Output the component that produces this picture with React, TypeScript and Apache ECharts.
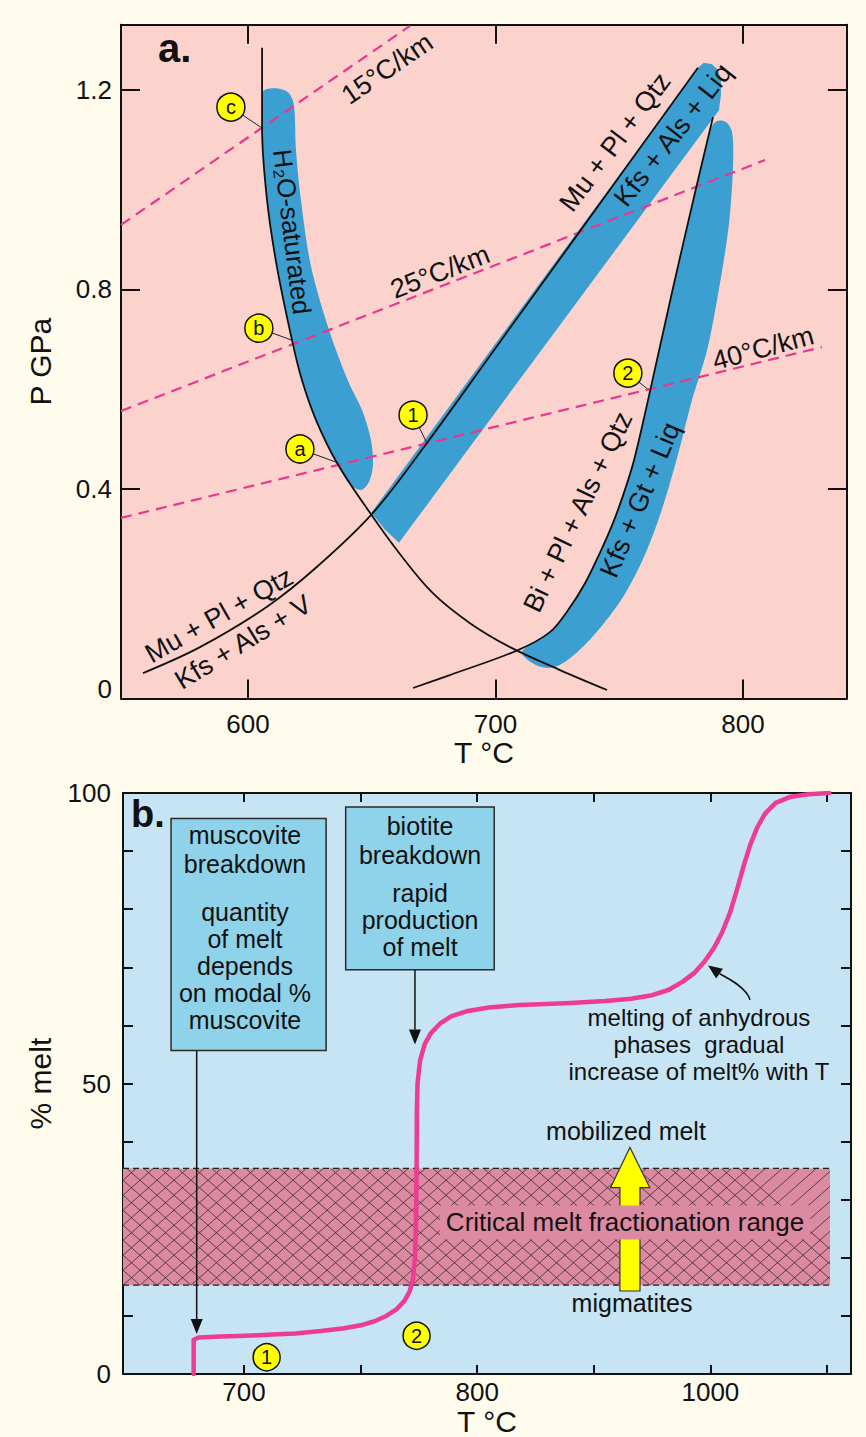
import React, { useEffect, useRef } from "react";
import * as echarts from "echarts";

const FONT = '"Liberation Sans", Arial, Helvetica, "DejaVu Sans", sans-serif';
const BG = "#fffcee";
const PINK_BG = "#fcd2cd";
const BAND = "#3b9fd1";
const BLUE_BG = "#c6e4f3";
const HATCH_FILL = "#dc8aa2";
const BOX_FILL = "#8fd3ea";
const MAGENTA = "#ee3b94";
const GEO = "#e8388e";
const INK = "#111111";

// ---------- Panel a: P (GPa) vs T (°C) ----------
const aXTicks = [600, 700, 800];
const aYTicks = [0.4, 0.8, 1.2];
const aYLabelValues = [0, 0.4, 0.8, 1.2];
const aYLabelTexts = ["0", "0.4", "0.8", "1.2"];

const geotherm15 = [[548.7, 0.929], [665.5, 1.328]];
const geotherm25 = [[548.7, 0.556], [808.9, 1.059]];
const geotherm40 = [[548.7, 0.342], [831.9, 0.684]];

const h2oSolidus = [
  [605.7, 1.284], [605.7, 1.123], [607.7, 0.979], [611.7, 0.845], [617.8, 0.698],
  [621.8, 0.618], [627.5, 0.538], [636.0, 0.452], [649.3, 0.352], [661.0, 0.272],
  [674.7, 0.191], [689.7, 0.131], [705.9, 0.083], [726.1, 0.037], [745.1, -0.003],
];
const muscoviteCurve = [
  [557.6, 0.031], [580.6, 0.083], [607.7, 0.164], [627.9, 0.244], [650.5, 0.352],
  [672.3, 0.492], [700.0, 0.682], [730.0, 0.888], [760.0, 1.094], [781.8, 1.244],
];
const biotiteCurve = [
  [666.7, 0.001], [681.6, 0.027], [709.1, 0.077], [722.0, 0.113], [729.3, 0.157],
  [736.2, 0.211], [742.2, 0.272], [747.5, 0.332], [751.9, 0.392], [756.0, 0.458],
  [761.6, 0.577], [771.3, 0.793], [780.6, 0.993], [787.9, 1.145],
];

const bandH2O = [
  [605.7, 1.189], [606.5, 1.199], [609.7, 1.203], [613.7, 1.201], [616.6, 1.193],
  [618.6, 1.169], [619.4, 1.079], [621.4, 0.979], [625.5, 0.845], [633.1, 0.713],
  [640.8, 0.612], [646.1, 0.558], [649.7, 0.498], [650.5, 0.448], [648.9, 0.414],
  [645.7, 0.398], [641.0, 0.410], [636.0, 0.452], [627.5, 0.538], [621.8, 0.618],
  [617.8, 0.698], [611.7, 0.845], [607.7, 0.979], [605.7, 1.123],
];
const bandMu = [
  [649.8, 0.352], [781.8, 1.244], [784.2, 1.254], [787.5, 1.251], [789.9, 1.240],
  [791.1, 1.219], [791.1, 1.189], [790.3, 1.159], [661.0, 0.292], [655.4, 0.318],
];
const bandBi = [
  [710.7, 0.073], [722.0, 0.113], [729.3, 0.157], [736.2, 0.211], [742.2, 0.272],
  [747.5, 0.332], [751.9, 0.392], [756.0, 0.458], [761.6, 0.577], [771.3, 0.793],
  [780.6, 0.993], [786.7, 1.119], [789.5, 1.137], [793.1, 1.135], [795.6, 1.115],
  [796.0, 1.049], [794.3, 0.929], [789.9, 0.789], [785.5, 0.678], [779.4, 0.578],
  [773.7, 0.468], [767.2, 0.358], [760.4, 0.268], [752.0, 0.187], [742.2, 0.121],
  [731.7, 0.067], [724.0, 0.043], [717.2, 0.045],
];
const bandSmooth = [0.3, 0, 0.3];

const aMarkerNames = ["c", "b", "a", "1", "2"];
const aMarkerPos = [[593.1, 1.165], [604.4, 0.722], [621.0, 0.48], [666.7, 0.548], [753.5, 0.632]];
const aMarkerTargets = [[605.7, 1.123], [617.8, 0.698], [636.5, 0.452], [672.3, 0.492], [762.0, 0.598]];

const aLabelTexts = [
  "15°C/km", "25°C/km", "40°C/km", "H₂O-saturated", "Mu + Pl + Qtz",
  "Kfs + Als + Liq", "Mu + Pl + Qtz", "Kfs + Als + V", "Bi + Pl + Als + Qtz", "Kfs + Gt + Liq",
];
const aLabelPos = [
  [656.2, 1.242], [677.6, 0.835], [808.1, 0.682], [617.8, 0.915], [748.3, 1.095],
  [771.7, 1.109], [588.3, 0.147], [598.0, 0.093], [733.3, 0.354], [758.4, 0.378],
];
const aLabelAngles = [34.5, 21.3, 15, -83, 53, 52, 29.6, 31.6, 64.5, 67];
const aLabelSizes = [27, 27, 27, 26, 27, 27, 27, 27, 27, 27];

// ---------- Panel b: % melt vs T (°C) ----------
const bXTicks = [700, 750, 800, 850, 900, 950];
const bXLabelValues = [700, 800, 900];
const bXLabelTexts = ["700", "800", "1000"];
const bYLabelValues = [0, 50, 100];

const meltCurve = [
  [678.4, 0], [678.4, 5.9], [680.5, 6.3], [690, 6.45], [701, 6.6], [712, 6.8], [722, 7.0],
  [733, 7.4], [743, 7.9], [750, 8.4], [756, 9.1], [761, 10.0], [765.5, 11.2], [768.8, 12.6],
  [771, 14.2], [772.5, 16.5], [773.3, 20], [773.7, 25], [774, 35], [774.1, 45], [774.4, 50],
  [775.5, 54], [777.5, 56.8], [780, 58.6], [784, 60.3], [789, 61.6], [796, 62.5], [805, 63.1],
  [818, 63.5], [838, 63.8], [855, 64.2], [866, 64.6], [875, 65.2], [882, 66.1], [888, 67.5],
  [893, 69.0], [897.5, 71.0], [901.5, 73.3], [905, 76], [908.5, 79.5], [911.5, 83.5],
  [914.3, 87.5], [917, 91], [920, 94], [923.5, 96.5], [928, 98.3], [934, 99.3], [942, 99.8],
  [951, 100],
];

const criticalT = [648.1, 951.3];
const criticalPct = [15.3, 35.4];

const yellowArrow = [
  [861.2, 14.3], [861.2, 32.1], [857.2, 32.1], [865.5, 39.0], [874.0, 32.1], [869.8, 32.1], [869.8, 14.3],
];

const boxRects = [[668.7, 55.7, 735.2, 95.6], [743.6, 69.6, 807.3, 97.6]];
const boxTitles = ["muscovite\nbreakdown", "biotite\nbreakdown"];
const boxTitlePos = [[700.4, 95.2], [775.5, 96.9]];
const boxBodies = ["quantity\nof melt\ndepends\non modal %\nmuscovite", "rapid\nproduction\nof melt"];
const boxBodyPos = [[700.4, 81.9], [775.5, 85.1]];

const straightArrows = [
  [[679.7, 55.7], [679.7, 6.9]],
  [[773.3, 69.6], [773.3, 56.7]],
];
const curvedArrow = [[917.0, 64.4], [915.3, 66.8], [905.8, 68.4], [899.0, 70.3]];

const bTexts = [
  "mobilized melt",
  "Critical melt fractionation range",
  "migmatites",
  "melting of anhydrous\nphases  gradual\nincrease of melt% with T",
];
const bTextPos = [[863.8, 41.8], [863.4, 26.1], [866.4, 12.2], [895.1, 63.66]];
const bTextSizes = [25, 26, 25, 24];

const bMarkerNames = ["1", "2"];
const bMarkerPos = [[709.7, 2.9], [774.0, 6.6]];

// ---------- helpers ----------
const axisLineStyle = { show: true, onZero: false, lineStyle: { color: INK, width: 2 } };

function textStyle(text: string, size: number, extra: any = {}) {
  return {
    text,
    fill: INK,
    fontSize: size,
    fontFamily: FONT,
    align: "center",
    verticalAlign: "middle",
    textAlign: "center",
    textVerticalAlign: "middle",
    ...extra,
  };
}

function arrowHead(tip: number[], from: number[], hl: number, hw: number) {
  const dx = tip[0] - from[0];
  const dy = tip[1] - from[1];
  const len = Math.hypot(dx, dy) || 1;
  const ux = dx / len;
  const uy = dy / len;
  const bx = tip[0] - ux * hl;
  const by = tip[1] - uy * hl;
  return {
    base: [bx, by],
    points: [
      [tip[0], tip[1]],
      [bx - uy * hw, by + ux * hw],
      [bx + uy * hw, by - ux * hw],
    ],
  };
}

function buildOption() {
  const bands = [bandH2O, bandMu, bandBi];
  const series: any[] = [];

  // Panel a -------------------------------------------------------------
  series.push({
    type: "custom",
    xAxisIndex: 0,
    yAxisIndex: 0,
    silent: true,
    data: bands.map((b) => b[0]),
    renderItem: (params: any, api: any) => {
      const band = bands[params.dataIndex];
      return {
        type: "polygon",
        shape: { points: band.map((p) => api.coord(p)), smooth: bandSmooth[params.dataIndex] },
        style: { fill: BAND },
      };
    },
  });
  [geotherm15, geotherm25, geotherm40].forEach((g) =>
    series.push({
      type: "line",
      xAxisIndex: 0,
      yAxisIndex: 0,
      silent: true,
      symbol: "none",
      data: g,
      lineStyle: { color: GEO, width: 2.2, type: [11, 7] },
    })
  );
  [h2oSolidus, muscoviteCurve, biotiteCurve].forEach((c) =>
    series.push({
      type: "line",
      xAxisIndex: 0,
      yAxisIndex: 0,
      silent: true,
      symbol: "none",
      smooth: 0.35,
      data: c,
      lineStyle: { color: INK, width: 1.8 },
    })
  );
  series.push({
    type: "custom",
    xAxisIndex: 0,
    yAxisIndex: 0,
    silent: true,
    data: aMarkerPos,
    renderItem: (params: any, api: any) => {
      const a = api.coord(aMarkerPos[params.dataIndex]);
      const b = api.coord(aMarkerTargets[params.dataIndex]);
      return {
        type: "line",
        shape: { x1: a[0], y1: a[1], x2: b[0], y2: b[1] },
        style: { stroke: "#222", lineWidth: 1 },
      };
    },
  });
  series.push({
    type: "scatter",
    xAxisIndex: 0,
    yAxisIndex: 0,
    silent: true,
    symbol: "circle",
    symbolSize: 28,
    data: aMarkerPos.map((p, i) => ({ name: aMarkerNames[i], value: p })),
    itemStyle: { color: "#ffff00", borderColor: INK, borderWidth: 1.5, opacity: 1 },
    label: {
      show: true,
      position: "inside",
      formatter: (p: any) => p.name,
      color: INK,
      fontSize: 20,
      fontFamily: FONT,
    },
  });
  series.push({
    type: "custom",
    xAxisIndex: 0,
    yAxisIndex: 0,
    silent: true,
    data: aLabelPos,
    renderItem: (params: any, api: any) => {
      const i = params.dataIndex;
      const c = api.coord(aLabelPos[i]);
      return {
        type: "text",
        x: c[0],
        y: c[1],
        rotation: (aLabelAngles[i] * Math.PI) / 180,
        style: textStyle(aLabelTexts[i], aLabelSizes[i]),
      };
    },
  });

  // Panel b -------------------------------------------------------------
  series.push({
    type: "custom",
    xAxisIndex: 2,
    yAxisIndex: 2,
    silent: true,
    data: [[criticalT[0], criticalPct[1]]],
    renderItem: (params: any, api: any) => {
      const p0 = api.coord([criticalT[0], criticalPct[1]]);
      const p1 = api.coord([criticalT[1], criticalPct[0]]);
      const x0 = p0[0], y0 = p0[1], x1 = p1[0], y1 = p1[1];
      const w = x1 - x0, h = y1 - y0;
      const W = 17, H = 15;
      const tmax = h / H;
      const children: any[] = [
        { type: "rect", shape: { x: x0, y: y0, width: w, height: h }, style: { fill: HATCH_FILL } },
      ];
      const hs = { stroke: "#3a2a30", lineWidth: 0.8 };
      for (let k = -Math.ceil(tmax) - 2; k <= Math.ceil(w / W) + 2; k++) {
        let ta = Math.max(0, -k);
        let tb = Math.min(tmax, w / W - k);
        if (tb > ta)
          children.push({
            type: "line",
            shape: { x1: x0 + (k + ta) * W, y1: y1 - ta * H, x2: x0 + (k + tb) * W, y2: y1 - tb * H },
            style: hs,
          });
        ta = Math.max(0, k - w / W);
        tb = Math.min(tmax, k);
        if (tb > ta)
          children.push({
            type: "line",
            shape: { x1: x0 + (k - ta) * W, y1: y1 - ta * H, x2: x0 + (k - tb) * W, y2: y1 - tb * H },
            style: hs,
          });
      }
      const ds = { stroke: "#222", lineWidth: 1.3, lineDash: [6, 4] };
      children.push({ type: "line", shape: { x1: x0, y1: y0, x2: x1, y2: y0 }, style: ds });
      children.push({ type: "line", shape: { x1: x0, y1: y1, x2: x1, y2: y1 }, style: ds });
      return { type: "group", children };
    },
  });
  series.push({
    type: "custom",
    xAxisIndex: 2,
    yAxisIndex: 2,
    silent: true,
    data: [yellowArrow[0]],
    renderItem: (params: any, api: any) => ({
      type: "polygon",
      shape: { points: yellowArrow.map((p) => api.coord(p)) },
      style: { fill: "#ffff00", stroke: "#333", lineWidth: 1.2 },
    }),
  });
  series.push({
    type: "custom",
    xAxisIndex: 2,
    yAxisIndex: 2,
    silent: true,
    data: bTextPos,
    renderItem: (params: any, api: any) => {
      const i = params.dataIndex;
      const c = api.coord(bTextPos[i]);
      const extra: any = {};
      if (i === 1) {
        extra.backgroundColor = HATCH_FILL;
        extra.padding = [4, 6, 4, 6];
      }
      if (i === 3) {
        extra.verticalAlign = "top";
        extra.textVerticalAlign = "top";
        extra.lineHeight = 27;
      }
      return { type: "text", x: c[0], y: c[1], style: textStyle(bTexts[i], bTextSizes[i], extra) };
    },
  });
  series.push({
    type: "line",
    xAxisIndex: 2,
    yAxisIndex: 2,
    silent: true,
    symbol: "none",
    data: meltCurve,
    lineStyle: { color: MAGENTA, width: 4.5, cap: "round", join: "round" },
  });
  series.push({
    type: "custom",
    xAxisIndex: 2,
    yAxisIndex: 2,
    silent: true,
    data: boxRects.map((r) => [r[0], r[3]]),
    renderItem: (params: any, api: any) => {
      const i = params.dataIndex;
      const r = boxRects[i];
      const a = api.coord([r[0], r[3]]);
      const b = api.coord([r[2], r[1]]);
      const t = api.coord(boxTitlePos[i]);
      const bd = api.coord(boxBodyPos[i]);
      return {
        type: "group",
        children: [
          {
            type: "rect",
            shape: { x: a[0], y: a[1], width: b[0] - a[0], height: b[1] - a[1] },
            style: { fill: BOX_FILL, stroke: "#2a2a2a", lineWidth: 1.5 },
          },
          {
            type: "text",
            x: t[0],
            y: t[1],
            style: textStyle(boxTitles[i], 25, { verticalAlign: "top", textVerticalAlign: "top", lineHeight: 29 }),
          },
          {
            type: "text",
            x: bd[0],
            y: bd[1],
            style: textStyle(boxBodies[i], 25, { verticalAlign: "top", textVerticalAlign: "top", lineHeight: 27 }),
          },
        ],
      };
    },
  });
  series.push({
    type: "custom",
    xAxisIndex: 2,
    yAxisIndex: 2,
    silent: true,
    data: straightArrows.map((s) => s[0]),
    renderItem: (params: any, api: any) => {
      const s = straightArrows[params.dataIndex];
      const a = api.coord(s[0]);
      const b = api.coord(s[1]);
      const head = arrowHead(b, a, 15, 6);
      return {
        type: "group",
        children: [
          {
            type: "line",
            shape: { x1: a[0], y1: a[1], x2: head.base[0], y2: head.base[1] },
            style: { stroke: INK, lineWidth: 1.5 },
          },
          { type: "polygon", shape: { points: head.points }, style: { fill: INK } },
        ],
      };
    },
  });
  series.push({
    type: "custom",
    xAxisIndex: 2,
    yAxisIndex: 2,
    silent: true,
    data: [curvedArrow[0]],
    renderItem: (params: any, api: any) => {
      const p = curvedArrow.map((q) => api.coord(q));
      const head = arrowHead(p[3], p[2], 14, 6);
      return {
        type: "group",
        children: [
          {
            type: "bezierCurve",
            shape: {
              x1: p[0][0], y1: p[0][1],
              cpx1: p[1][0], cpy1: p[1][1],
              cpx2: p[2][0], cpy2: p[2][1],
              x2: head.base[0], y2: head.base[1],
            },
            style: { stroke: INK, lineWidth: 1.5, fill: null },
          },
          { type: "polygon", shape: { points: head.points }, style: { fill: INK } },
        ],
      };
    },
  });
  series.push({
    type: "scatter",
    xAxisIndex: 2,
    yAxisIndex: 2,
    silent: true,
    symbol: "circle",
    symbolSize: 27,
    data: bMarkerPos.map((p, i) => ({ name: bMarkerNames[i], value: p })),
    itemStyle: { color: "#ffff00", borderColor: INK, borderWidth: 1.5, opacity: 1 },
    label: {
      show: true,
      position: "inside",
      formatter: (p: any) => p.name,
      color: INK,
      fontSize: 20,
      fontFamily: FONT,
    },
  });

  const tickBase = (len: number, custom?: number[]) => ({
    show: true,
    inside: true,
    length: len,
    ...(custom ? { customValues: custom } : {}),
    lineStyle: { color: INK, width: 2 },
  });
  const labelBase = { color: INK, fontSize: 26, fontFamily: FONT };

  return {
    backgroundColor: BG,
    animation: false,
    grid: [
      { left: 121, top: 24.8, width: 725.9, height: 673.7, show: true, backgroundColor: PINK_BG, borderWidth: 0 },
      { left: 123, top: 793, width: 728, height: 582, show: true, backgroundColor: BLUE_BG, borderWidth: 0 },
    ],
    xAxis: [
      {
        type: "value", gridIndex: 0, position: "bottom", min: 548.7, max: 842,
        axisLine: axisLineStyle, axisTick: tickBase(19, aXTicks),
        axisLabel: { ...labelBase, customValues: aXTicks, margin: 12 },
        splitLine: { show: false },
        name: "T °C", nameLocation: "middle", nameGap: 37,
        nameTextStyle: { color: INK, fontSize: 30, fontFamily: FONT },
      },
      {
        type: "value", gridIndex: 0, position: "top", min: 548.7, max: 842,
        axisLine: axisLineStyle, axisTick: tickBase(19, aXTicks),
        axisLabel: { show: false }, splitLine: { show: false },
      },
      {
        type: "value", gridIndex: 1, position: "bottom", min: 648.1, max: 960.3,
        axisLine: axisLineStyle, axisTick: tickBase(9, bXTicks),
        axisLabel: {
          ...labelBase,
          customValues: bXLabelValues,
          margin: 5,
          formatter: (v: number) => {
            const i = bXLabelValues.findIndex((x) => Math.abs(x - v) < 1e-6);
            return i >= 0 ? bXLabelTexts[i] : "";
          },
        },
        splitLine: { show: false },
        name: "T °C", nameLocation: "middle", nameGap: 30,
        nameTextStyle: { color: INK, fontSize: 30, fontFamily: FONT },
      },
      {
        type: "value", gridIndex: 1, position: "top", min: 648.1, max: 960.3,
        axisLine: axisLineStyle, axisTick: tickBase(9, bXTicks),
        axisLabel: { show: false }, splitLine: { show: false },
      },
    ],
    yAxis: [
      {
        type: "value", gridIndex: 0, position: "left", min: -0.02, max: 1.33,
        axisLine: axisLineStyle, axisTick: tickBase(19, aYTicks),
        axisLabel: {
          ...labelBase,
          customValues: aYLabelValues,
          margin: 9,
          formatter: (v: number) => {
            const i = aYLabelValues.findIndex((x) => Math.abs(x - v) < 1e-6);
            return i >= 0 ? aYLabelTexts[i] : "";
          },
        },
        splitLine: { show: false },
        name: "P GPa", nameLocation: "middle", nameGap: 66,
        nameTextStyle: { color: INK, fontSize: 30, fontFamily: FONT },
      },
      {
        type: "value", gridIndex: 0, position: "right", min: -0.02, max: 1.33,
        axisLine: axisLineStyle, axisTick: tickBase(19, aYTicks),
        axisLabel: { show: false }, splitLine: { show: false },
      },
      {
        type: "value", gridIndex: 1, position: "left", min: 0, max: 100, interval: 10,
        axisLine: axisLineStyle, axisTick: tickBase(10),
        axisLabel: { ...labelBase, customValues: bYLabelValues, margin: 12 },
        splitLine: { show: false },
        name: "% melt", nameLocation: "middle", nameGap: 68,
        nameTextStyle: { color: INK, fontSize: 30, fontFamily: FONT },
      },
      {
        type: "value", gridIndex: 1, position: "right", min: 0, max: 100, interval: 10,
        axisLine: axisLineStyle, axisTick: tickBase(10),
        axisLabel: { show: false }, splitLine: { show: false },
      },
    ],
    graphic: [
      {
        type: "text", left: 158, top: 28, silent: true,
        style: { text: "a.", fontSize: 40, fontWeight: "bold", fontFamily: FONT, fill: INK },
      },
      {
        type: "text", left: 131, top: 795, silent: true,
        style: { text: "b.", fontSize: 38, fontWeight: "bold", fontFamily: FONT, fill: INK },
      },
    ],
    series,
  };
}

export default function App() {
  const ref = useRef<HTMLDivElement>(null);
  useEffect(() => {
    document.body.style.margin = "0";
    document.body.style.background = BG;
    const chart = echarts.init(ref.current as HTMLDivElement, null, { renderer: "svg" });
    chart.setOption(buildOption() as any);
    return () => chart.dispose();
  }, []);
  return <div ref={ref} style={{ width: 866, height: 1437 }} />;
}
